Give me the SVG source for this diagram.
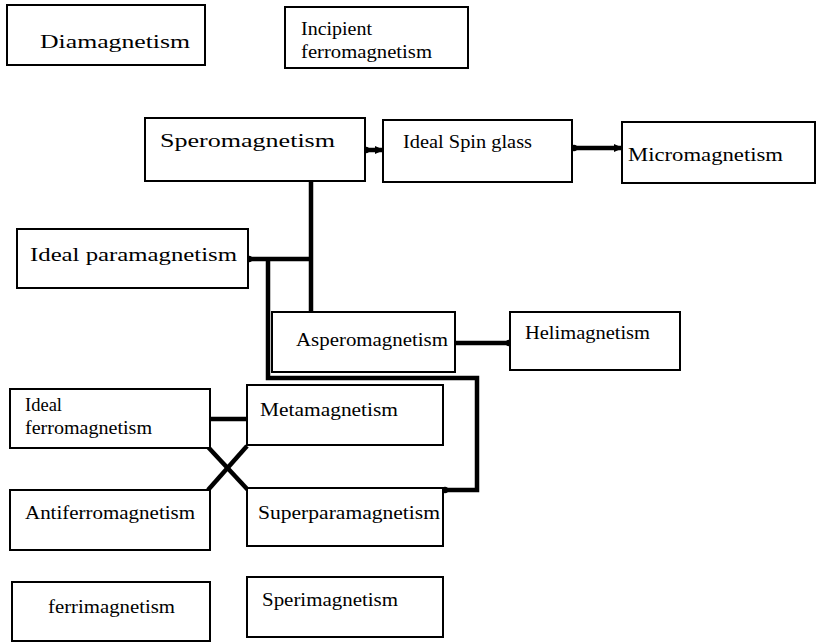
<svg xmlns="http://www.w3.org/2000/svg" width="817" height="642" viewBox="0 0 817 642">
<style>
.box{fill:#fff;stroke:#000;stroke-width:2}
.t{font-family:"Liberation Serif","DejaVu Serif",serif;font-size:19px;fill:#000}
.c{fill:none;stroke:#000;stroke-width:4.5;stroke-linejoin:miter}
</style>
<defs>
<marker id="arr" markerWidth="10" markerHeight="10" refX="8" refY="5" orient="auto" markerUnits="userSpaceOnUse"><path d="M0,1 L9,5 L0,9 Z" fill="#000"/></marker>
<marker id="dot" markerWidth="8" markerHeight="8" refX="4" refY="4" markerUnits="userSpaceOnUse"><circle cx="4" cy="4" r="3.2" fill="#000"/></marker>
</defs>
<rect width="817" height="642" fill="#fff"/>
<g id="connectors">
<path class="c" d="M366,150 H383" marker-start="url(#dot)" marker-end="url(#arr)"/>
<path class="c" d="M574,148 H622" marker-start="url(#dot)" marker-end="url(#arr)"/>
<path class="c" d="M311,181 V312"/>
<path class="c" d="M249,259 H311" marker-start="url(#dot)"/>
<path class="c" d="M268,259 V378 H477 V490 H445" marker-end="url(#dot)"/>
<path class="c" d="M456,343 H509" marker-end="url(#dot)"/>
<path class="c" d="M211,419 H247"/>
<path class="c" d="M208,447 L248,490"/>
<path class="c" d="M247,446 L208,490"/>
</g>
<g id="diamagnetism"><rect class="box" x="7" y="5" width="198" height="60"/><text class="t" x="40" y="48" textLength="150" lengthAdjust="spacingAndGlyphs">Diamagnetism</text></g>
<g id="incipient"><rect class="box" x="285" y="7" width="183" height="61"/><text class="t" x="301" y="35" textLength="71" lengthAdjust="spacingAndGlyphs">Incipient</text><text class="t" x="301" y="58" textLength="131" lengthAdjust="spacingAndGlyphs">ferromagnetism</text></g>
<g id="speromagnetism"><rect class="box" x="145" y="118" width="220" height="63"/><text class="t" x="160" y="147" textLength="175" lengthAdjust="spacingAndGlyphs">Speromagnetism</text></g>
<g id="spinglass"><rect class="box" x="383" y="120" width="189" height="62"/><text class="t" x="403" y="148" textLength="129" lengthAdjust="spacingAndGlyphs">Ideal Spin glass</text></g>
<g id="micromagnetism"><rect class="box" x="622" y="122" width="193" height="61"/><text class="t" x="628" y="161" textLength="155" lengthAdjust="spacingAndGlyphs">Micromagnetism</text></g>
<g id="paramagnetism"><rect class="box" x="17" y="229" width="231" height="59"/><text class="t" x="30" y="261" textLength="207" lengthAdjust="spacingAndGlyphs">Ideal paramagnetism</text></g>
<g id="asperomagnetism"><rect class="box" x="272" y="312" width="183" height="60"/><text class="t" x="296" y="346" textLength="152" lengthAdjust="spacingAndGlyphs">Asperomagnetism</text></g>
<g id="helimagnetism"><rect class="box" x="510" y="312" width="170" height="58"/><text class="t" x="525" y="339" textLength="125" lengthAdjust="spacingAndGlyphs">Helimagnetism</text></g>
<g id="ferromagnetism"><rect class="box" x="10" y="389" width="200" height="59"/><text class="t" x="25" y="411" textLength="37" lengthAdjust="spacingAndGlyphs">Ideal</text><text class="t" x="25" y="434" textLength="127" lengthAdjust="spacingAndGlyphs">ferromagnetism</text></g>
<g id="metamagnetism"><rect class="box" x="247" y="385" width="196" height="60"/><text class="t" x="260" y="416" textLength="138" lengthAdjust="spacingAndGlyphs">Metamagnetism</text></g>
<g id="antiferromagnetism"><rect class="box" x="10" y="490" width="200" height="60"/><text class="t" x="25" y="519" textLength="170" lengthAdjust="spacingAndGlyphs">Antiferromagnetism</text></g>
<g id="superparamagnetism"><rect class="box" x="247" y="488" width="196" height="58"/><text class="t" x="258" y="519" textLength="182" lengthAdjust="spacingAndGlyphs">Superparamagnetism</text></g>
<g id="ferrimagnetism"><rect class="box" x="12" y="582" width="198" height="59"/><text class="t" x="48" y="613" textLength="127" lengthAdjust="spacingAndGlyphs">ferrimagnetism</text></g>
<g id="sperimagnetism"><rect class="box" x="247" y="577" width="196" height="60"/><text class="t" x="262" y="606" textLength="136" lengthAdjust="spacingAndGlyphs">Sperimagnetism</text></g>
</svg>
